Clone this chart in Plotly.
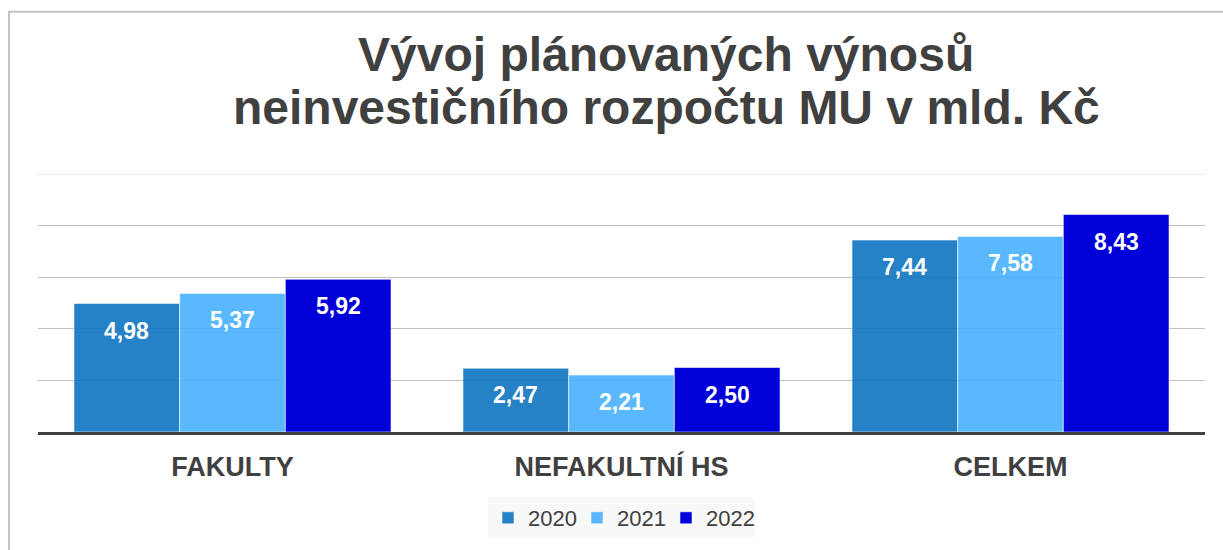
import plotly.graph_objects as go

categories = ["FAKULTY", "NEFAKULTNÍ HS", "CELKEM"]
years = ["2020", "2021", "2022"]
values_2020 = [4.98, 2.47, 7.44]
values_2021 = [5.37, 2.21, 7.58]
values_2022 = [5.92, 2.50, 8.43]
series = [values_2020, values_2021, values_2022]
colors = ["#0E75C0", "#49B1FF", "#0000D9"]
opacities = [0.9, 0.9, 1.0]
y_ticks = [0, 2, 4, 6, 8]
y_max = 10
title_lines = ["Vývoj plánovaných výnosů", "neinvestičního rozpočtu MU v mld. Kč"]

W, H = 1223, 550
ML, MR, MT, MB = 38, 18, 174, 117
plot_w = W - ML - MR
plot_h = H - MT - MB
bargap = 0.185
bar_px = plot_w / len(categories) * (1 - bargap) / len(years)


def py(pix):
    """page pixel row -> paper y"""
    return (MT + plot_h - pix) / plot_h


def px(pix):
    """page pixel column -> paper x"""
    return (pix - ML) / plot_w


FONT = "Liberation Sans, Arial, sans-serif"
TXT = "#404040"

fig = go.Figure()
for yr, vals, col, op in zip(years, series, colors, opacities):
    fig.add_trace(go.Bar(
        name=yr, x=categories, y=vals,
        marker=dict(color=col, line=dict(color="rgba(255,255,255,0.55)", width=1)),
        opacity=op,
    ))

# value labels inside bar tops
for i, vals in enumerate(series):
    for cat, v in zip(categories, vals):
        fig.add_annotation(
            x=cat, y=v, xref="x", yref="y",
            text=f"{v:.2f}".replace(".", ","),
            showarrow=False, xanchor="center", yanchor="middle",
            xshift=(i - 1) * bar_px, yshift=-27,
            font=dict(family=FONT, size=23, color="white", weight="bold"),
        )

# title (two lines)
for line, cy in zip(title_lines, [54, 107]):
    fig.add_annotation(
        x=px(666), y=py(cy), xref="paper", yref="paper",
        text=line, showarrow=False, xanchor="center", yanchor="middle",
        font=dict(family=FONT, size=48, color=TXT, weight="bold"),
    )

# top gridline (lighter)
fig.add_shape(type="line", xref="paper", yref="y", x0=0, x1=1, y0=y_max, y1=y_max,
              line=dict(color="#e3e3e3", width=1.5), layer="below")
# outer frame
fig.add_shape(type="rect", xref="paper", yref="paper",
              x0=px(9), x1=px(W + 20), y0=py(H + 20), y1=py(11),
              line=dict(color="#c4c4c4", width=2), fillcolor="rgba(0,0,0,0)", layer="below")

fig.update_layout(
    width=W, height=H,
    margin=dict(l=ML, r=MR, t=MT, b=MB),
    paper_bgcolor="white", plot_bgcolor="white",
    barmode="group", bargap=bargap, bargroupgap=0,
    font=dict(family=FONT, color=TXT),
    showlegend=True,
    legend=dict(
        orientation="h", x=0.5, xanchor="center", y=py(497), yanchor="top",
        bgcolor="#f8f8f8", font=dict(family=FONT, size=22, color=TXT),
        itemwidth=30, traceorder="normal", entrywidth=44,
    ),
    xaxis=dict(
        showline=True, linecolor="#404040", linewidth=3,
        ticks="outside", ticklen=9, tickcolor="rgba(0,0,0,0)",
        tickfont=dict(family=FONT, size=27, color=TXT, weight="bold"),
        showgrid=False,
    ),
    yaxis=dict(
        range=[0, y_max], tickvals=y_ticks, showticklabels=False,
        showgrid=True, gridcolor="#c0c0c0", gridwidth=1, zeroline=False,
    ),
)

fig.write_html("out.html", config={"displayModeBar": False},
               post_script="document.body.style.margin='0';")
